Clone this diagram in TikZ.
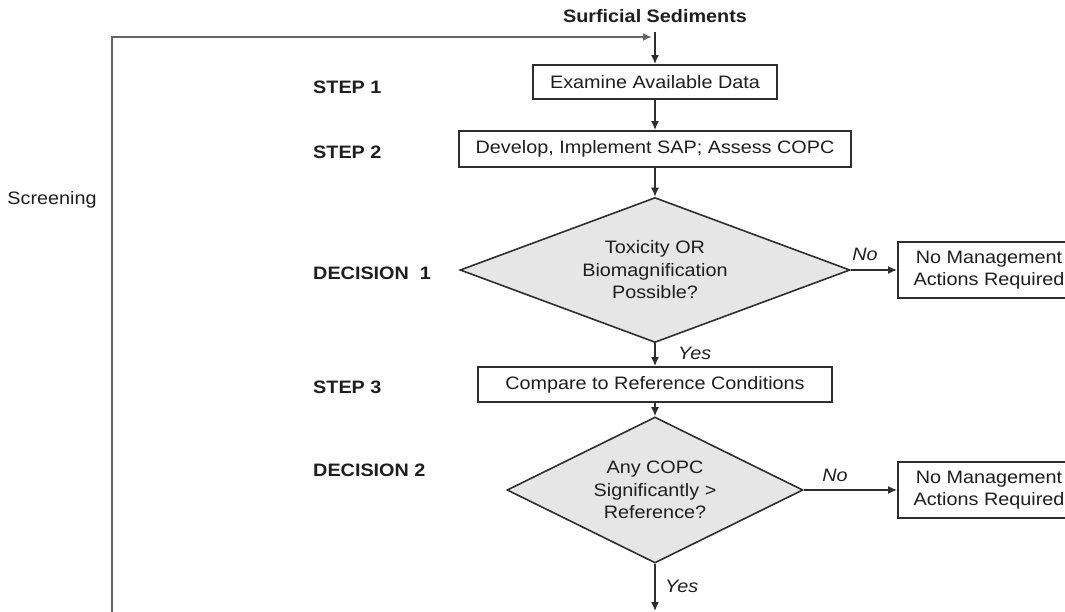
\documentclass[tikz,border=0pt]{standalone}
\usepackage{fontspec}
\setmainfont{Liberation Sans}[FakeStretch=1.1]
\usetikzlibrary{shapes.geometric,arrows.meta}
\definecolor{ink}{HTML}{1E1E1E}
\definecolor{edge}{HTML}{2E2E2E}
\definecolor{loopc}{HTML}{666666}
\definecolor{dfill}{HTML}{E6E6E6}
\begin{document}
\begin{tikzpicture}[x=1pt,y=-1pt,
  font=\fontsize{18}{22.5}\selectfont, text=ink,
  box/.style={draw=edge, line width=2pt, fill=white, inner sep=0pt, align=center},
  dia/.style={diamond, draw=edge, line width=1.6pt, fill=dfill, inner sep=0pt, align=center},
  lbl/.style={anchor=west, font=\fontsize{18}{22.5}\selectfont\bfseries, inner sep=0pt},
  ans/.style={font=\fontsize{18}{22.5}\selectfont\itshape, inner sep=0pt},
  conn/.style={draw=edge, line width=1.4pt, -{Latex[length=9pt,width=8pt]}}
]
\useasboundingbox (0,0) rectangle (1065,611);
% title
\node[font=\fontsize{18}{22.5}\selectfont\bfseries, inner sep=0pt] (title) at (655,16) {Surficial Sediments};
\coordinate (top) at (655,37);
% boxes
\node[box, minimum width=244pt, minimum height=34pt] (b1) at (655,82) {Examine Available Data};
\node[box, minimum width=392pt, minimum height=36pt] (b2) at (655,149) {Develop, Implement SAP; Assess COPC};
\node[dia, minimum width=390pt, minimum height=145pt, aspect=2.69] (d1) at (655,270) {Toxicity OR\\Biomagnification\\Possible?};
\node[box, minimum width=182pt, minimum height=56pt, anchor=west] (n1) at (897,270) {No Management\\Actions Required};
\node[box, minimum width=354pt, minimum height=35pt] (b3) at (655,384.5) {Compare to Reference Conditions};
\node[dia, minimum width=296pt, minimum height=146pt, aspect=2.03] (d2) at (655,490) {Any COPC\\Significantly \textgreater\\Reference?};
\node[box, minimum width=182pt, minimum height=56pt, anchor=west] (n2) at (897,490) {No Management\\Actions Required};
\coordinate (bot) at (655,611);
\coordinate (loopb) at (112,615);
\coordinate (loopt) at (112,37);
% step labels
\node[lbl] (s1) at (313,87) {STEP 1};
\node[lbl] (s2) at (313,152) {STEP 2};
\node[lbl] (dc1) at (313,273) {DECISION\ \ 1};
\node[lbl] (s3) at (313,387) {STEP 3};
\node[lbl] (dc2) at (313,470) {DECISION 2};
\node[inner sep=0pt] (scr) at (52,200) {Screening};
% answers
\node[ans] (no1) at (865,254) {No};
\node[ans] (no2) at (835,475) {No};
\node[ans, anchor=west] (yes1) at (678,353) {Yes};
\node[ans, anchor=west] (yes2) at (665,586) {Yes};
% connectors
\draw[draw=loopc, line width=1.8pt, -{Latex[length=9pt,width=8pt]}] (loopb) -- (loopt) -- ([xshift=-3pt]top);
\draw[conn] (title.south |- 0,32) -- (b1.north);
\draw[conn] (b1.south) -- (b2.north);
\draw[conn] (b2.south) -- (d1.north);
\draw[conn] (d1.east) -- (n1.west);
\draw[conn] (d1.south) -- (b3.north);
\draw[conn] (b3.south) -- (d2.north);
\draw[conn] (d2.east) -- (n2.west);
\draw[conn] (d2.south) -- (bot);
\end{tikzpicture}
\end{document}
